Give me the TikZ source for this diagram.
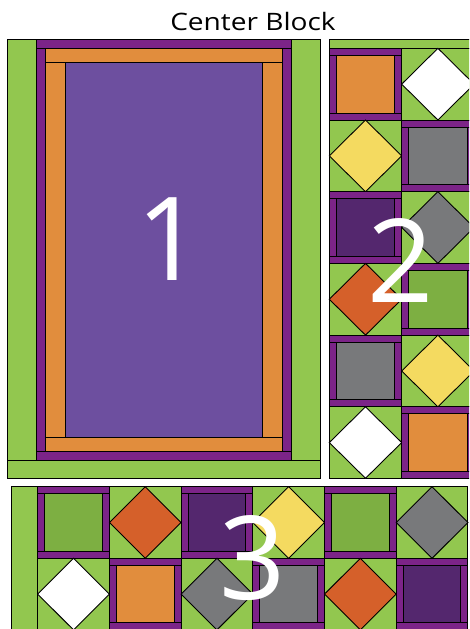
\documentclass[tikz,border=0pt]{standalone}
\usepackage{fontspec}
\setmainfont{Open Sans}
\definecolor{qgreen}{HTML}{92C74F}
\definecolor{qmgreen}{HTML}{7DAF42}
\definecolor{qpurple}{HTML}{7C2488}
\definecolor{qcenter}{HTML}{6D4F9F}
\definecolor{qdark}{HTML}{54276E}
\definecolor{qorange}{HTML}{E18D3D}
\definecolor{qred}{HTML}{D5602A}
\definecolor{qgray}{HTML}{78797B}
\definecolor{qyellow}{HTML}{F4DA60}
\newcommand\qframed[5]{%
  \filldraw[fill=qpurple] (#1,#2) rectangle ({#1+#3},{#2+#4});
  \draw (#1,{#2+7}) -- ({#1+#3},{#2+7});
  \draw (#1,{#2+#4-7}) -- ({#1+#3},{#2+#4-7});
  \filldraw[fill=#5] ({#1+7},{#2+7}) rectangle ({#1+#3-7},{#2+#4-7});}
\newcommand\qdiam[5]{%
  \filldraw[fill=qgreen] (#1,#2) rectangle ({#1+#3},{#2+#4});
  \filldraw[fill=#5] ({#1+#3/2},#2) -- ({#1+#3},{#2+#4/2}) -- ({#1+#3/2},{#2+#4}) -- (#1,{#2+#4/2}) -- cycle;}
\begin{document}
\begin{tikzpicture}[x=1pt,y=-1pt,line width=0.9pt,
  bignum/.style={text=white,font=\fontsize{116}{116}\selectfont,inner sep=0pt},
  title/.style={font=\fontsize{24}{24}\selectfont,inner sep=0pt,xscale=1.17}]
\useasboundingbox[fill=white] (0,0) rectangle (469,629);
\clip (0,0) rectangle (469,629);
% ---- Block 1 (log cabin) ----
\filldraw[fill=qgreen] (7.3,460.7) rectangle (320.7,478.3);
\filldraw[fill=qgreen] (7.3,39.3) rectangle (36.7,460.7);
\filldraw[fill=qgreen] (291.7,39.3) rectangle (320.7,460.7);
\filldraw[fill=qpurple] (36.7,39.3) rectangle (291.7,48.3);
\filldraw[fill=qpurple] (36.7,451.7) rectangle (291.7,460.7);
\filldraw[fill=qpurple] (36.7,48.3) rectangle (45.7,451.7);
\filldraw[fill=qpurple] (282.3,48.3) rectangle (291.7,451.7);
\filldraw[fill=qorange] (45.7,48.3) rectangle (282.3,62.3);
\filldraw[fill=qorange] (45.7,437.7) rectangle (282.3,451.7);
\filldraw[fill=qorange] (45.7,62.3) rectangle (65.7,437.7);
\filldraw[fill=qorange] (262.3,62.3) rectangle (282.3,437.7);
\filldraw[fill=qcenter] (65.7,62.3) rectangle (262.3,437.7);
% ---- Block 2 ----
\filldraw[fill=qgreen] (329.3,39.3) rectangle (474,48.3);
\qframed{329.3}{48.3}{72.4}{71.7}{qorange}
\qdiam{329.3}{120}{72.4}{71.7}{qyellow}
\qframed{329.3}{191.7}{72.4}{71.7}{qdark}
\qdiam{329.3}{263.4}{72.4}{71.7}{qred}
\qframed{329.3}{335.1}{72.4}{71.7}{qgray}
\qdiam{329.3}{406.8}{72.4}{71.5}{white}
\qdiam{401.7}{48.3}{72.4}{71.7}{white}
\qframed{401.7}{120}{72.4}{71.7}{qgray}
\qdiam{401.7}{191.7}{72.4}{71.7}{qgray}
\qframed{401.7}{263.4}{72.4}{71.7}{qmgreen}
\qdiam{401.7}{335.1}{72.4}{71.7}{qyellow}
\qframed{401.7}{406.8}{72.4}{71.5}{qorange}
% ---- Block 3 ----
\filldraw[fill=qgreen] (11,486.7) rectangle (37.7,640);
\qframed{37.7}{486.7}{71.7}{71.6}{qmgreen}
\qdiam{109.4}{486.7}{71.7}{71.6}{qred}
\qframed{181.1}{486.7}{71.7}{71.6}{qdark}
\qdiam{252.8}{486.7}{71.7}{71.6}{qyellow}
\qframed{324.5}{486.7}{71.7}{71.6}{qmgreen}
\qdiam{396.2}{486.7}{71.7}{71.6}{qgray}
\qdiam{37.7}{558.3}{71.7}{71.6}{white}
\qframed{109.4}{558.3}{71.7}{71.6}{qorange}
\qdiam{181.1}{558.3}{71.7}{71.6}{qgray}
\qframed{252.8}{558.3}{71.7}{71.6}{qgray}
\qdiam{324.5}{558.3}{71.7}{71.6}{qred}
\qframed{396.2}{558.3}{71.7}{71.6}{qdark}
% ---- Labels ----
\node[title] (title) at (253,21.4) {Center Block};
\node[bignum] (n1) at (170,239) {1};
\node[bignum] (n2) at (401,260) {2};
\node[bignum] (n3) at (253,558.5) {3};
\end{tikzpicture}
\end{document}
